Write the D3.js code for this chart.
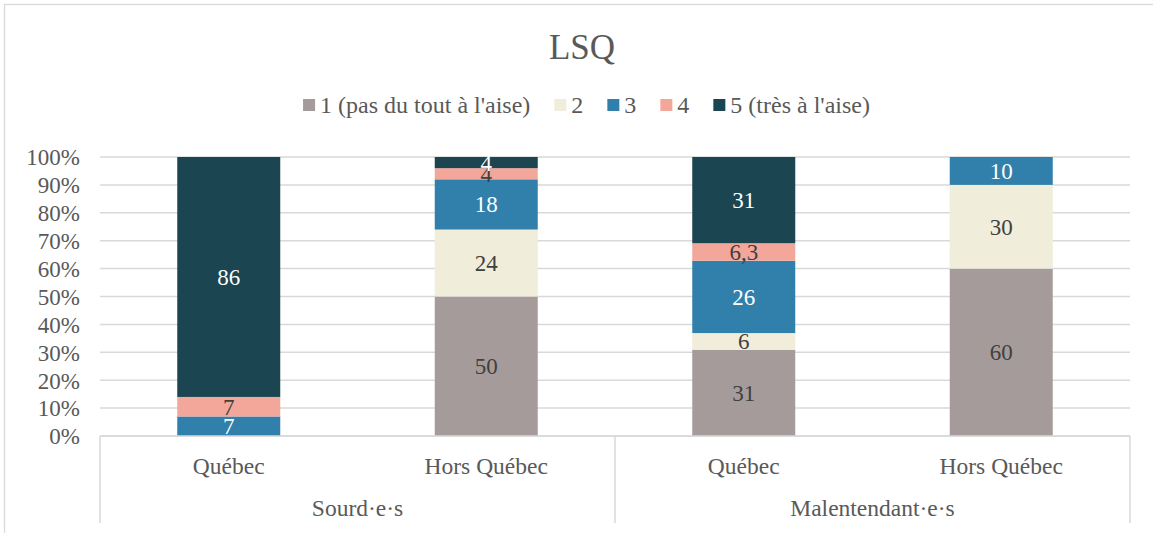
<!DOCTYPE html>
<html>
<head>
<meta charset="utf-8">
<script src="https://cdn.jsdelivr.net/npm/d3@7"></script>
<style>
  html, body { margin: 0; padding: 0; background: #fff; }
  svg { display: block; }
  svg text { font-family: "Liberation Serif", "Times New Roman", serif; }
</style>
</head>
<body>
<svg id="chart" width="1153" height="533"></svg>
<script>
// ---- Data ----
const title = "LSQ";
const groups = ["Sourd·e·s", "Malentendant·e·s"];
const categories = ["Québec", "Hors Québec", "Québec", "Hors Québec"];
const categoryGroup = [0, 0, 1, 1];
const seriesNames = ["1 (pas du tout à l'aise)", "2", "3", "4", "5 (très à l'aise)"];
const s1 = [0, 50, 31, 60];
const s2 = [0, 24, 6, 30];
const s3 = [7, 18, 26, 10];
const s4 = [7, 4, 6.3, 0];
const s5 = [86, 4, 31, 0];
const yTicks = [0, 0.1, 0.2, 0.3, 0.4, 0.5, 0.6, 0.7, 0.8, 0.9, 1.0];
const colors = ["#a69b9b", "#f0eddb", "#3180ab", "#f2a79a", "#1b4550"];
const labelColors = ["#404040", "#404040", "#ffffff", "#404040", "#ffffff"];

const seriesValues = [s1, s2, s3, s4, s5];
const FONT = '"Liberation Serif", "Times New Roman", serif';

// build table
const table = categories.map((c, i) => {
  const row = { key: i };
  seriesNames.forEach((s, j) => row[s] = seriesValues[j][i]);
  return row;
});

const svg = d3.select("#chart");
const W = 1153, H = 533;

// Frame
svg.append("rect")
  .attr("x", 4.5).attr("y", 4.5)
  .attr("width", W + 20).attr("height", H + 20)
  .attr("fill", "#fff").attr("stroke", "#d9d9d9").attr("stroke-width", 1.3);

const plot = { left: 100, right: 1130, top: 157, bottom: 436 };

const x = d3.scaleBand()
  .domain(d3.range(categories.length))
  .range([plot.left, plot.right])
  .paddingInner(0.6).paddingOuter(0.3);

const y = d3.scaleLinear().domain([0, 1]).range([plot.bottom, plot.top]);

// Gridlines
svg.append("g").selectAll("line").data(yTicks).join("line")
  .attr("x1", plot.left).attr("x2", plot.right)
  .attr("y1", d => y(d)).attr("y2", d => y(d))
  .attr("stroke", "#d9d9d9").attr("stroke-width", 1.5);

// Y axis labels
const yAxis = d3.axisLeft(y).tickValues(yTicks).tickFormat(d3.format(".0%")).tickSize(0).tickPadding(0);
const yg = svg.append("g").attr("transform", `translate(${80},0)`).call(yAxis);
yg.select(".domain").remove();
yg.selectAll("text")
  .attr("fill", "#595959")
  .style("font-family", FONT)
  .style("font-size", "23px")
  .attr("dy", "0.34em");

// Stack (100% stacked)
const stack = d3.stack().keys(seriesNames).offset(d3.stackOffsetExpand);
const stacked = stack(table);

const fmt = v => String(v).replace(".", ",");

const layers = svg.append("g").selectAll("g").data(stacked).join("g")
  .attr("fill", (d, i) => colors[i]);

layers.selectAll("rect").data(d => d).join("rect")
  .attr("x", (d, i) => x(i))
  .attr("width", x.bandwidth())
  .attr("y", d => y(d[1]))
  .attr("height", d => Math.max(0, y(d[0]) - y(d[1])));

// Labels
stacked.forEach((layer, si) => {
  svg.append("g").selectAll("text").data(layer.map((d, i) => ({ d, i })).filter(o => seriesValues[si][o.i] > 0))
    .join("text")
    .attr("x", o => x(o.i) + x.bandwidth() / 2)
    .attr("y", o => y((o.d[0] + o.d[1]) / 2))
    .attr("dy", "0.35em")
    .attr("text-anchor", "middle")
    .attr("fill", labelColors[si])
    .style("font-family", FONT)
    .style("font-size", "23px")
    .text(o => fmt(seriesValues[si][o.i]));
});

// Category axis
const axisG = svg.append("g");
axisG.append("line")
  .attr("x1", plot.left).attr("x2", plot.right)
  .attr("y1", plot.bottom).attr("y2", plot.bottom)
  .attr("stroke", "#d9d9d9").attr("stroke-width", 1.5);

const sepXs = [plot.left, (plot.left + plot.right) / 2, plot.right];
axisG.selectAll("line.sep").data(sepXs).join("line")
  .attr("class", "sep")
  .attr("x1", d => d).attr("x2", d => d)
  .attr("y1", plot.bottom).attr("y2", 523)
  .attr("stroke", "#d9d9d9").attr("stroke-width", 1.5);

axisG.selectAll("text.cat").data(categories).join("text")
  .attr("class", "cat")
  .attr("x", (d, i) => x(i) + x.bandwidth() / 2)
  .attr("y", 466).attr("dy", "0.35em")
  .attr("text-anchor", "middle")
  .attr("fill", "#595959")
  .style("font-family", FONT)
  .style("font-size", "23.5px")
  .text(d => d);

axisG.selectAll("text.grp").data(groups).join("text")
  .attr("class", "grp")
  .attr("x", (d, i) => (sepXs[i] + sepXs[i + 1]) / 2)
  .attr("y", 508).attr("dy", "0.35em")
  .attr("text-anchor", "middle")
  .attr("fill", "#595959")
  .style("font-family", FONT)
  .style("font-size", "23.5px")
  .text(d => d);

// Title
svg.append("text")
  .attr("x", 582).attr("y", 47).attr("dy", "0.35em")
  .attr("text-anchor", "middle")
  .attr("fill", "#595959")
  .style("font-family", FONT)
  .style("font-size", "35px")
  .text(title);

// Legend
const legend = svg.append("g");
const items = legend.selectAll("g").data(seriesNames).join("g");
items.append("rect").attr("width", 12).attr("height", 12).attr("y", -6)
  .attr("fill", (d, i) => colors[i]);
items.append("text").attr("x", 17).attr("dy", "0.35em")
  .attr("fill", "#595959")
  .style("font-family", FONT)
  .style("font-size", "24px").text(d => d);
let cx = 0;
const gap = 24;
items.each(function () {
  const g = d3.select(this);
  g.attr("transform", `translate(${cx},0)`);
  const w = 17 + g.select("text").node().getComputedTextLength();
  cx += w + gap;
});
const totalW = cx - gap;
legend.attr("transform", `translate(${586.5 - totalW / 2},105)`);
</script>
</body>
</html>
